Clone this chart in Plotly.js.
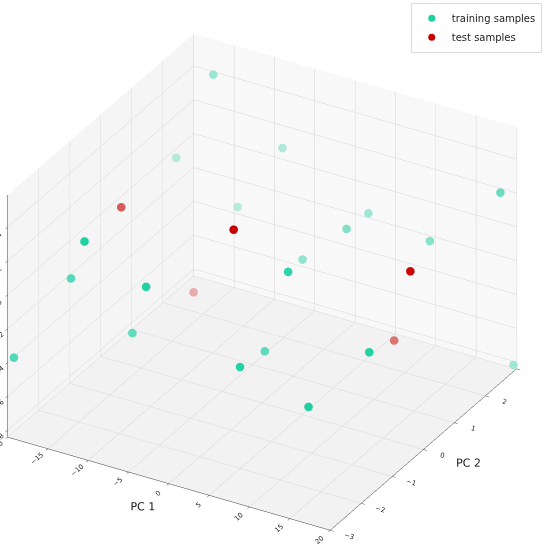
<!DOCTYPE html>
<html>
<head>
<meta charset="utf-8">
<script src="https://cdn.plot.ly/plotly-3.0.1.min.js"></script>
<style>html,body{margin:0;padding:0;background:#fff;}#chart{width:550px;height:552px;}</style>
</head>
<body>
<div id="chart"></div>
<script>
// ---- data ----
const trainX = [-15.1, -18.7, -8.6, -11.7, 2.4, 3.5, 11.1, -1.3, 6.5, -11.7, -16.8, -5.1, -10.5, -19.6, 2.5, 5.7, 17.4, 13.8, 19.0, 20.0];
const trainY = [2.35, 2.09, 2.89, 2.25, 2.80, 1.81, 2.52, 1.64, -0.85, -2.68, -1.79, -2.41, -1.45, -2.90, -0.56, -2.19, -1.07, -2.09, 2.74, 2.90];
const trainZ = [0.52, 0.02, 0.09, -0.20, -0.13, -0.05, -0.13, -0.27, 0.16, 0.38, -0.05, 0.16, -0.34, -0.38, -0.41, -0.20, -0.13, -0.34, 0.23, -0.80];
const testX = [-18.5, 0.9, -17.0, 17.8, 8.1];
const testY = [0.27, -1.15, 2.21, 0.15, 2.15];
const testZ = [0.02, 0.38, -0.77, 0.16, -0.70];
const xRange = [-20, 20];
const yRange = [-3, 3];
const zRange = [-0.84, 0.59];
const seriesNames = ['training samples', 'test samples'];

// ---- view (matplotlib default elev=30, azim=-60, box aspect 4:4:3) ----
const elev = 30 * Math.PI / 180, azim = -60 * Math.PI / 180;
const boxScale = 1.38;
const aspect = {x: boxScale, y: boxScale, z: 0.75 * boxScale};
const dir = [Math.cos(elev) * Math.cos(azim), Math.cos(elev) * Math.sin(azim), Math.sin(elev)];
const camDist = 2.6;

function norm(v, r) { return (v - (r[0] + r[1]) / 2) / ((r[1] - r[0]) / 2); }
// depth shading like matplotlib's depthshade (per collection, alpha 0.3..1)
function shade(xs, ys, zs, rgb) {
  const bg = [244, 244, 244];
  const c = xs.map((x, i) => dir[0] * norm(x, xRange) * aspect.x + dir[1] * norm(ys[i], yRange) * aspect.y + dir[2] * norm(zs[i], zRange) * aspect.z);
  const mn = Math.min(...c), mx = Math.max(...c);
  return c.map(v => {
    const a = 1 - 0.7 * (mx - v) / ((mx - mn) || 1);
    const m = rgb.map((ch, k) => Math.round(a * ch + (1 - a) * bg[k]));
    return 'rgb(' + m.join(',') + ')';
  });
}
const teal = [29, 209, 161], red = [200, 0, 0];
const toRgb = c => 'rgb(' + c.join(',') + ')';

const traces = [
  {type: 'scatter3d', mode: 'markers', name: seriesNames[0], x: trainX, y: trainY, z: trainZ, showlegend: false,
   marker: {size: 5, color: shade(trainX, trainY, trainZ, teal), line: {width: 0}}},
  {type: 'scatter3d', mode: 'markers', name: seriesNames[1], x: testX, y: testY, z: testZ, showlegend: false,
   marker: {size: 5, color: shade(testX, testY, testZ, red), line: {width: 0}}},
  // legend swatches in full colour
  {type: 'scatter3d', mode: 'markers', name: seriesNames[0], x: [null], y: [null], z: [null], marker: {size: 7, color: toRgb(teal)}},
  {type: 'scatter3d', mode: 'markers', name: seriesNames[1], x: [null], y: [null], z: [null], marker: {size: 7, color: toRgb(red)}}
];

const axisBase = {
  showbackground: true, gridcolor: 'rgb(214,214,214)', gridwidth: 1,
  showline: true, linecolor: 'rgb(60,60,60)', linewidth: 1,
  ticks: 'outside', ticklen: 4, tickcolor: 'rgb(60,60,60)',
  tickfont: {family: 'DejaVu Sans', size: 9, color: '#222'},
  zeroline: false, showspikes: false
};
const layout = {
  width: 550, height: 552,
  margin: {l: 0, r: 0, t: 0, b: 0},
  paper_bgcolor: '#fff',
  font: {family: 'DejaVu Sans', color: '#222'},
  showlegend: true,
  legend: {x: 0.985, y: 0.995, xanchor: 'right', yanchor: 'top', bgcolor: 'rgba(255,255,255,0.8)',
           bordercolor: 'rgb(220,220,220)', borderwidth: 1, font: {family: 'DejaVu Sans', size: 10, color: '#222'}},
  scene: {
    domain: {x: [0, 0.953], y: [0, 0.978]},
    aspectmode: 'manual', aspectratio: aspect,
    camera: {eye: {x: dir[0] * camDist, y: dir[1] * camDist, z: dir[2] * camDist}, up: {x: 0, y: 0, z: 1},
             center: {x: 0, y: 0, z: 0}, projection: {type: 'orthographic'}},
    xaxis: Object.assign({}, axisBase, {range: xRange, tick0: -20, dtick: 5, backgroundcolor: 'rgb(245,245,245)',
      title: {text: 'PC 1', font: {family: 'DejaVu Sans', size: 11, color: '#222'}}}),
    yaxis: Object.assign({}, axisBase, {range: yRange, tick0: -3, dtick: 1, backgroundcolor: 'rgb(248,248,248)',
      title: {text: 'PC 2', font: {family: 'DejaVu Sans', size: 11, color: '#222'}}}),
    zaxis: Object.assign({}, axisBase, {range: zRange, tick0: -0.8, dtick: 0.2, tickformat: '.1f', backgroundcolor: 'rgb(242,242,242)',
      title: {text: 'PC 3', font: {family: 'DejaVu Sans', size: 11, color: '#222'}}})
  }
};
Plotly.newPlot('chart', traces, layout, {displayModeBar: false});
</script>
</body>
</html>
